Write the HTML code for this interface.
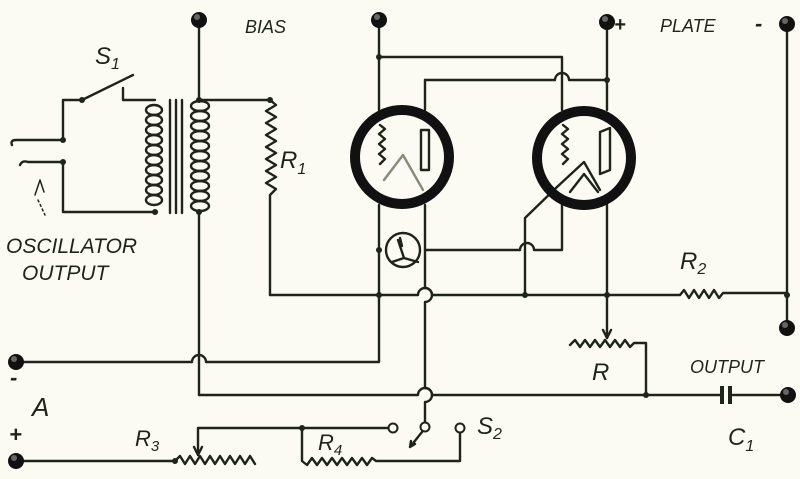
<!DOCTYPE html>
<html><head><meta charset="utf-8"><style>
html,body{margin:0;padding:0;background:#fbfaf3;}
svg{display:block;}
text{font-family:"Liberation Sans",sans-serif;font-style:italic;fill:#1e2418;}
</style></head><body>
<svg width="800" height="479" viewBox="0 0 800 479" xmlns="http://www.w3.org/2000/svg">
<g fill="none" stroke="#1e2418" stroke-width="2.4" stroke-linecap="round" stroke-linejoin="round">
<!-- transformer -->
<path d="M199,20 V100 H270"/>
<path d="M270,100 l6,5 -10,6 10,6 -10,6 10,6 -10,6 10,6 -10,6 10,6 -10,6 10,6 -10,6 10,6 -10,6 10,6 -6,6 V295"/>
<path d="M199,212 V395"/>
<path d="M170,100 V213 M176,100 V213 M182,100 V213"/>
<g>
<ellipse cx="200" cy="106" rx="9" ry="5"/><ellipse cx="200" cy="116" rx="9" ry="5"/><ellipse cx="200" cy="126" rx="9" ry="5"/><ellipse cx="200" cy="136" rx="9" ry="5"/><ellipse cx="200" cy="146" rx="9" ry="5"/><ellipse cx="200" cy="156" rx="9" ry="5"/><ellipse cx="200" cy="166" rx="9" ry="5"/><ellipse cx="200" cy="176" rx="9" ry="5"/><ellipse cx="200" cy="186" rx="9" ry="5"/><ellipse cx="200" cy="196" rx="9" ry="5"/><ellipse cx="200" cy="206" rx="9" ry="5"/>
<ellipse cx="154" cy="110" rx="8" ry="5"/><ellipse cx="154" cy="120" rx="8" ry="5"/><ellipse cx="154" cy="130" rx="8" ry="5"/><ellipse cx="154" cy="140" rx="8" ry="5"/><ellipse cx="154" cy="150" rx="8" ry="5"/><ellipse cx="154" cy="160" rx="8" ry="5"/><ellipse cx="154" cy="170" rx="8" ry="5"/><ellipse cx="154" cy="180" rx="8" ry="5"/><ellipse cx="154" cy="190" rx="8" ry="5"/><ellipse cx="154" cy="200" rx="8" ry="5"/>
</g>
<path d="M123,88 V100 H155"/>
<path d="M63,140 V100 H82 L133,75"/>
<path d="M12,145 Q10,140 16,140 H63"/>
<path d="M20,165 Q22,160 28,162 H63 V212 H157"/>
<path d="M35,195 L40,180 L44,192" stroke-width="1.5"/>
<path d="M38,200 L45,215" stroke-width="1.5" stroke-dasharray="2,3"/>
<!-- tube circuits -->
<path d="M379,20 V110 M379,205 V295"/>
<path d="M379,57 H562 V110 M562,205 V250 H534 a7,7 0 0 0 -14,0 H425"/>
<path d="M425,80 H555 a7,7 0 0 1 14,0 H607"/>
<path d="M425,80 V110 M425,205 V288 a7,7 0 0 1 0,14 V388 a7,7 0 0 1 0,14 V422"/>
<path d="M607,20 V110 M607,205 V338"/>
<path d="M525,295 V218 L557,187"/>
<path d="M270,295 H418 a7,7 0 0 1 14,0 H680 l4,-5 5,8 5,-8 5,8 5,-8 5,8 5,-8 5,8 4,-5 H787 V22"/>
<path d="M787,295 V328"/>
<path d="M16,362 H192 a7,7 0 0 1 14,0 H379 V295"/>
<path d="M199,395 H418 a7,7 0 0 1 14,0 H721 M731,395 H788"/>
<!-- rheostat R -->
<path d="M607,338 l-4,-8 M607,338 l4,-8"/>
<path d="M570,345 l5,-5 5,7 5,-7 5,7 5,-7 5,7 5,-7 5,7 5,-7 5,7 5,-7 5,7 4,-4 H646 V395"/>
<!-- small rheostat circle -->
<circle cx="403" cy="250" r="17"/>
<path d="M398,240 L404,258 L392,262 M404,258 L418,262 M400,238 l2,8"/>
<!-- tube interiors -->
<path d="M380,125 l5,4 -6,5 6,5 -6,5 6,5 -6,5 6,5 -5,5"/>
<rect x="421" y="130" width="8" height="40"/>
<path d="M384,180 L403,155 L423,190" stroke="#8a8a7a"/>
<path d="M563,125 l5,4 -6,5 6,5 -6,5 6,5 -6,5 6,5 -5,5"/>
<path d="M600,132 L610,128 V170 L600,174 Z"/>
<path d="M557,187 L584,162 L600,190 M570,192 L584,174 L598,192"/>
<!-- bottom -->
<path d="M16,461 H175 l5,-5 5,8 5,-8 5,8 5,-8 5,8 5,-8 5,8 5,-8 5,8 5,-8 5,8 5,-8 5,8 5,-8 5,8"/>
<path d="M198,455 V428 H388"/>
<path d="M198,455 l-4,-8 M198,455 l4,-8"/>
<path d="M302,428 V461 l5,4 5,-7 5,7 5,-7 5,7 5,-7 5,7 5,-7 5,7 5,-7 5,7 5,-7 5,7 5,-7 4,3 H460 V433"/>
<path d="M422,432 L410,447 M410,447 l1,-6 M410,447 l5,-3"/>
</g>
<g fill="#fbfaf3" stroke="#1e2418" stroke-width="2"><circle cx="393" cy="428" r="4.5"/><circle cx="425" cy="427" r="4.5"/><circle cx="460" cy="428" r="4.5"/></g>
<rect x="720" y="386" width="4" height="18" fill="#1e2418"/><rect x="728" y="386" width="4" height="18" fill="#1e2418"/>
<g fill="#1e2418"><circle cx="199" cy="100" r="3"/><circle cx="270" cy="100" r="3"/><circle cx="82" cy="100" r="3"/><circle cx="63" cy="140" r="3"/><circle cx="63" cy="162" r="3"/><circle cx="155" cy="212" r="3"/><circle cx="199" cy="212" r="3"/><circle cx="379" cy="57" r="3"/><circle cx="607" cy="80" r="3"/><circle cx="379" cy="295" r="3"/><circle cx="525" cy="295" r="3"/><circle cx="607" cy="295" r="3"/><circle cx="787" cy="295" r="3"/><circle cx="379" cy="250" r="3"/><circle cx="646" cy="395" r="3"/><circle cx="302" cy="428" r="3"/><circle cx="175" cy="461" r="3"/></g>
<g fill="none" stroke="#111" stroke-width="10"><circle cx="402" cy="157" r="47"/><circle cx="584" cy="158" r="47"/></g>
<g fill="#111"><circle cx="199" cy="20" r="8"/><circle cx="379" cy="20" r="8"/><circle cx="607" cy="22" r="8"/><circle cx="787" cy="24" r="8"/><circle cx="787" cy="328" r="8"/><circle cx="16" cy="362" r="8"/><circle cx="16" cy="461" r="8"/><circle cx="788" cy="395" r="8"/></g>
<g fill="#666"><circle cx="197" cy="17" r="3"/><circle cx="377" cy="17" r="3"/><circle cx="605" cy="19" r="3"/><circle cx="785" cy="21" r="3"/><circle cx="785" cy="325" r="3"/><circle cx="14" cy="359" r="3"/><circle cx="14" cy="458" r="3"/><circle cx="786" cy="392" r="3"/></g>
<text x="245" y="33" font-size="18">BIAS</text>
<text x="95" y="64" font-size="24">S<tspan font-size="16" dy="5">1</tspan></text>
<text x="280" y="168" font-size="24">R<tspan font-size="16" dy="6">1</tspan></text>
<text x="6" y="253" font-size="21">OSCILLATOR</text>
<text x="22" y="280" font-size="21">OUTPUT</text>
<text x="614" y="31" font-size="20" font-style="normal" font-weight="bold">+</text>
<text x="660" y="32" font-size="18">PLATE</text>
<text x="755" y="31" font-size="22" font-weight="bold">-</text>
<text x="680" y="269" font-size="24">R<tspan font-size="16" dy="5">2</tspan></text>
<text x="592" y="380" font-size="24">R</text>
<text x="690" y="373" font-size="18">OUTPUT</text>
<text x="728" y="445" font-size="24">C<tspan font-size="16" dy="6">1</tspan></text>
<text x="10" y="385" font-size="22" font-weight="bold">-</text>
<text x="32" y="416" font-size="26">A</text>
<text x="9" y="442" font-size="22" font-style="normal" font-weight="bold">+</text>
<text x="135" y="446" font-size="22">R<tspan font-size="15" dy="5">3</tspan></text>
<text x="318" y="450" font-size="22">R<tspan font-size="15" dy="5">4</tspan></text>
<text x="477" y="434" font-size="24">S<tspan font-size="16" dy="5">2</tspan></text>
</svg>
</body></html>
